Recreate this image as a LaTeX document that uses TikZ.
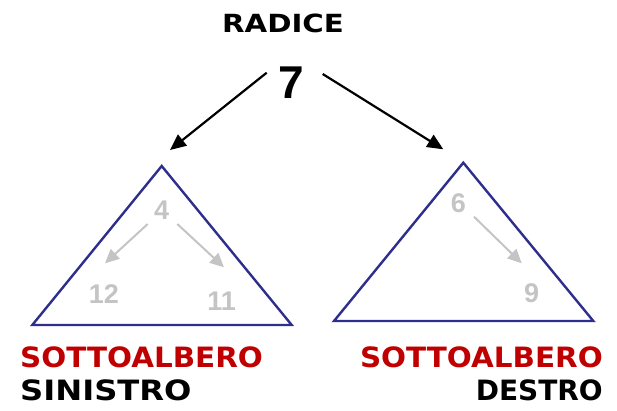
\documentclass[tikz,border=0pt]{standalone}
\usepackage{fontspec}
\setmainfont{Liberation Sans}
\newfontfamily\labelfont{DejaVu Sans}
\usetikzlibrary{arrows.meta}
\definecolor{treeblue}{HTML}{2E2E8C}
\definecolor{labelred}{HTML}{C00000}
\definecolor{ghost}{HTML}{C4C4C4}
\tikzset{
  x=1pt, y=-1pt,
  subtree/.style={draw=treeblue, line width=2.4pt, line join=miter},
  rootnum/.style={font=\fontsize{46}{46}\selectfont\bfseries, inner sep=0pt},
  ghostnum/.style={font=\fontsize{27}{27}\selectfont\bfseries, text=ghost, inner sep=0pt},
  mainarrow/.style={line width=2.2pt, -{Triangle[length=16pt,width=14pt]}},
  ghostarrow/.style={draw=ghost, line width=2pt, -{Triangle[length=14pt,width=13pt]}},
  caption/.style={font=\labelfont\fontsize{28}{28}\selectfont\bfseries, inner sep=0pt},
}
\begin{document}
\begin{tikzpicture}
\useasboundingbox (0,0) rectangle (617,411);

% root
\node[caption, font=\labelfont\fontsize{25}{25}\selectfont\bfseries] (radice) at (283,23) {\scalebox{1.17}[1]{RADICE}};
\node[rootnum] (root) at (291.5,83) {7};
\coordinate (lfrom) at (266.7,72.7);
\coordinate (lto) at (170,150);
\coordinate (rfrom) at (322.7,74);
\coordinate (rto) at (443.3,149.3);
\draw[mainarrow] (lfrom) -- (lto);
\draw[mainarrow] (rfrom) -- (rto);

% left subtree
\coordinate (la) at (161.7,166);
\coordinate (lb) at (32.3,325);
\coordinate (lc) at (291.7,325);
\draw[subtree] (la) -- (lb) -- (lc) -- cycle;
\node[ghostnum] (n4) at (161.7,210) {4};
\node[ghostnum] (n12) at (104,294) {12};
\node[ghostnum] (n11) at (221.7,301.7) {11};
\coordinate (g1a) at (147.7,224);
\coordinate (g1b) at (105,263.3);
\coordinate (g2a) at (177.3,224);
\coordinate (g2b) at (224,267.3);
\draw[ghostarrow] (g1a) -- (g1b);
\draw[ghostarrow] (g2a) -- (g2b);

% right subtree
\coordinate (ra) at (463.3,162.7);
\coordinate (rb) at (334,321);
\coordinate (rc) at (593.3,321);
\draw[subtree] (ra) -- (rb) -- (rc) -- cycle;
\node[ghostnum] (n6) at (458.3,203.3) {6};
\node[ghostnum] (n9) at (531.7,293.3) {9};
\coordinate (g3a) at (474,216.7);
\coordinate (g3b) at (521.7,263.3);
\draw[ghostarrow] (g3a) -- (g3b);

% captions
\node[caption, text=labelred, anchor=west] (ls1) at (20,357) {\scalebox{1.05}[1]{SOTTOALBERO}};
\node[caption, anchor=west] (ls2) at (20,390) {\scalebox{1.15}[1]{SINISTRO}};
\node[caption, text=labelred, anchor=east] (rs1) at (603,357) {\scalebox{1.05}[1]{SOTTOALBERO}};
\node[caption, anchor=east] (rs2) at (603,390) {DESTRO};
\end{tikzpicture}
\end{document}
